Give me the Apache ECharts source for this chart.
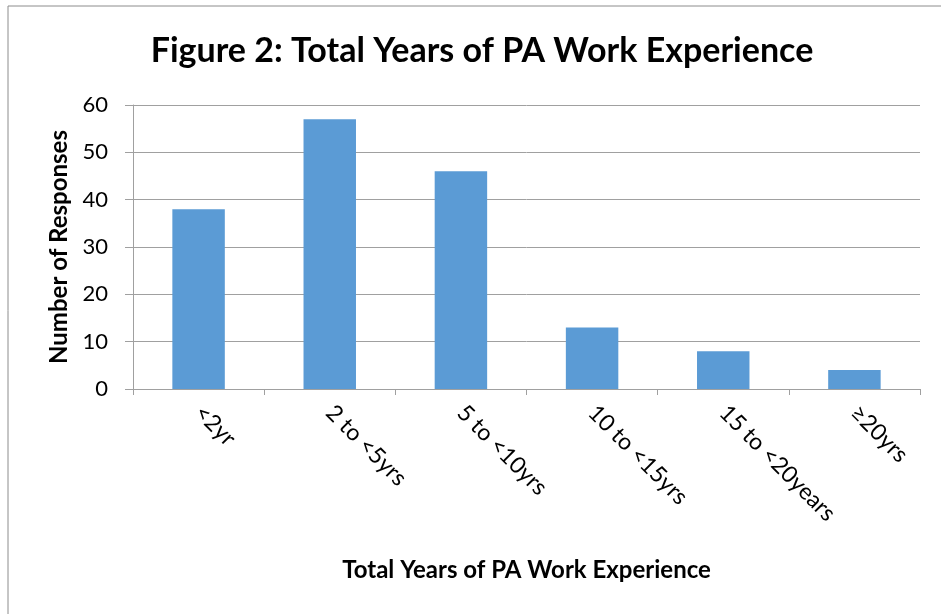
<!DOCTYPE html>
<html>
<head>
<meta charset="utf-8">
<script src="https://cdn.jsdelivr.net/npm/echarts@6/dist/echarts.min.js"></script>
<style>
  html, body { margin: 0; padding: 0; background: #fff; }
  #chart { width: 941px; height: 614px; }
</style>
</head>
<body>
<div id="chart"></div>
<script>
// 工作年限分布
const categories = ['<2yr', '2 to <5yrs', '5 to <10yrs', '10 to <15yrs', '15 to <20years', '≥20yrs']
const responses = [38, 57, 46, 13, 8, 4]

const font = 'Lato, "Open Sans", sans-serif'
const chart = echarts.init(document.getElementById('chart'))

const option = {
  animation: false,
  textStyle: { fontFamily: font },
  title: {
    text: 'Figure 2: Total Years of PA Work Experience',
    left: 477,
    top: 29,
    textAlign: 'center',
    textStyle: { fontSize: 34, fontWeight: 'bold', color: '#000', fontFamily: font },
  },
  // 外框（只露出上边和左边）
  graphic: [
    {
      type: 'rect',
      shape: { x: 8, y: 6, width: 1000, height: 700 },
      style: { fill: null, stroke: '#8c8c8c', lineWidth: 1 },
      silent: true,
    },
  ],
  grid: {
    left: 133,
    right: 21,
    top: 105,
    bottom: 225,
    containLabel: false,
  },
  xAxis: {
    type: 'category',
    data: categories,
    name: 'Total Years of PA Work Experience',
    nameLocation: 'middle',
    nameGap: 169,
    nameTextStyle: { fontSize: 24, fontWeight: 'bold', color: '#000', fontFamily: font },
    axisLine: { lineStyle: { color: '#a0a0a0', width: 1 } },
    axisTick: { show: true, length: 6, lineStyle: { color: '#a0a0a0' } },
    axisLabel: { rotate: -45, fontSize: 23, color: '#000', margin: 20, interval: 0, fontFamily: font },
  },
  yAxis: {
    type: 'value',
    min: 0,
    max: 60,
    interval: 10,
    name: 'Number of Responses',
    nameLocation: 'middle',
    nameGap: 62,
    nameTextStyle: { fontSize: 24, fontWeight: 'bold', color: '#000', fontFamily: font },
    axisLine: { show: true, lineStyle: { color: '#a0a0a0', width: 1 } },
    axisTick: { show: true, length: 8, lineStyle: { color: '#a0a0a0' } },
    axisLabel: { fontSize: 22, color: '#000', margin: 25, fontFamily: font },
    splitLine: { lineStyle: { color: '#a0a0a0', width: 1 } },
  },
  series: [
    {
      type: 'bar',
      data: responses,
      barWidth: '40%',
      itemStyle: { color: '#5b9bd5' },
    },
  ],
}
chart.setOption(option)
</script>
</body>
</html>
